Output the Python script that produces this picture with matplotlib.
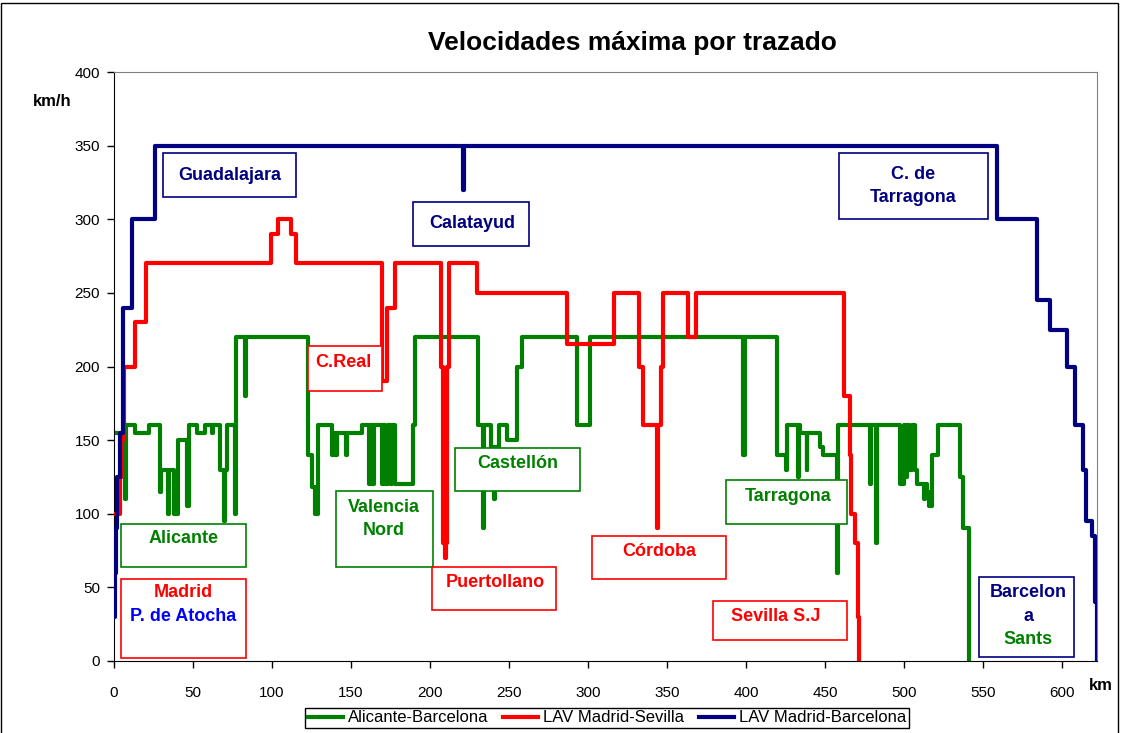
import matplotlib
matplotlib.use("Agg")
import matplotlib.pyplot as plt
from matplotlib.patches import Rectangle
from matplotlib.lines import Line2D

plt.rcParams['font.family'] = ['Liberation Sans', 'DejaVu Sans']

# Alicante-Barcelona (km, max speed) - step changes
green_km = [0, 6.8, 7.6, 13.3, 22.4, 28.8, 30, 34, 34.8, 38.2, 40.6, 46.2, 47.2,
            52.7, 57.6, 61.8, 62.6, 66.8, 69.6, 70.2, 71.3, 76.6, 77.2, 82.9, 83.6,
            123, 125.3, 127.5, 128.8, 137.8, 138.5, 140, 141, 146.5, 147.2, 156.8,
            161.5, 162.5, 163.5, 164.5, 169.4, 170.5, 171.5, 173.6, 175.5, 176, 178,
            189.4, 190.5, 230.6, 233.5, 234.2, 238.5, 240.5, 241.2, 243.3, 248.5,
            254.9, 258, 292.8, 301.3, 398.2, 399.2, 419.4, 425.5, 426, 433, 433.6,
            434.2, 438.2, 438.8, 446.8, 448.5, 457.2, 458.4, 478.3, 478.9, 482.4, 483,
            497.5, 499.8, 501, 502, 503, 505, 507, 508, 512.4, 513, 514.5, 516, 517.5,
            521.7, 535.4, 537.5, 540.7]
green_v = [155, 110, 160, 155, 160, 115, 130, 100, 130, 100, 150, 105, 160,
           155, 160, 155, 160, 130, 95, 130, 160, 100, 220, 180, 220,
           140, 118, 100, 160, 140, 155, 140, 155, 140, 155, 160,
           120, 160, 120, 160, 120, 160, 120, 160, 120, 160, 120,
           160, 220, 160, 90, 160, 145, 110, 145, 160, 150,
           200, 220, 160, 220, 140, 220, 140, 130, 160, 125, 160,
           155, 130, 155, 145, 140, 60, 160, 120, 160, 80, 160,
           120, 160, 125, 160, 130, 160, 130, 120, 110, 120, 115, 105, 140,
           160, 125, 90, 0]

# LAV Madrid-Sevilla
red_km = [1, 2.5, 3.5, 5, 6.3, 13, 20, 99.4, 103.6, 112, 115.2, 169.5, 172.6,
          177.8, 206.8, 208.2, 209.2, 209.8, 210.9, 212.2, 229.5, 286.5, 316.6,
          332, 335, 343.3, 344.3, 346, 347.2, 363.5, 368.4, 462, 465.8, 466.5,
          469, 471, 471.3]
red_v = [100, 100, 125, 150, 200, 230, 270, 290, 300, 290, 270, 190, 240,
         270, 200, 80, 70, 80, 200, 270, 250, 215, 250,
         200, 160, 90, 160, 200, 250, 220, 250, 180, 140, 100,
         80, 30, 0]

# LAV Madrid-Barcelona
blue_km = [0, 0.5, 1, 2, 4, 5.5, 11.5, 26, 221, 221.6, 559, 584, 592, 603,
           608, 613, 615, 619, 621, 622]
blue_v = [30, 60, 90, 125, 155, 240, 300, 350, 320, 350, 300, 245, 225, 200,
          160, 130, 95, 85, 40, 0]

GREEN = '#008000'
RED = '#ff0000'
NAVY = '#000080'

fig = plt.figure(figsize=(11.23, 7.33), dpi=100)
ax = fig.add_axes([114 / 1123, 1 - 661 / 733, (1097 - 114) / 1123, (661 - 72) / 733])

ax.step(green_km, green_v, where='post', color=GREEN, lw=3, zorder=2)
ax.step(red_km, red_v, where='post', color=RED, lw=3, zorder=3)
ax.step(blue_km, blue_v, where='post', color=NAVY, lw=3, zorder=4)

ax.set_xlim(0, 622)
ax.set_ylim(0, 400)
ax.set_xticks(range(0, 601, 50))
ax.set_yticks(range(0, 401, 50))
ax.tick_params(axis='both', direction='out', length=5, width=1, labelsize=11)
ax.tick_params(axis='x', pad=13)
ax.tick_params(axis='y', pad=5)
for s in ['top', 'right']:
    ax.spines[s].set_color('#808080')
for s in ['left', 'bottom']:
    ax.spines[s].set_color('black')

# station boxes: (km0, km1, v0, v1, edge colour)
boxes = [
    (30.8, 115, 315.1, 345, NAVY),
    (189, 262.7, 281.8, 312, NAVY),
    (458.9, 553, 300.2, 345, NAVY),
    (122.8, 169.6, 183.6, 213.9, RED),
    (4.2, 83.5, 63.8, 93, GREEN),
    (4.2, 83.5, 2.2, 55.7, RED),
    (140.5, 201.7, 63.8, 115.4, GREEN),
    (201.3, 279.7, 34.6, 64, RED),
    (215.8, 295.1, 115.4, 144.7, GREEN),
    (302.3, 387.3, 55.5, 85.1, RED),
    (387.3, 463.7, 93, 122.9, GREEN),
    (379.3, 463.7, 14.3, 41, RED),
    (547.5, 607.6, 2.9, 57.2, NAVY),
]
for x0, x1, y0, y1, c in boxes:
    ax.add_patch(Rectangle((x0, y0), x1 - x0, y1 - y0, facecolor='white',
                           edgecolor=c, lw=1.2, zorder=5, clip_on=False))

labels = [
    (73.4, 329.4, 'Guadalajara', NAVY),
    (226.6, 297, 'Calatayud', NAVY),
    (505.7, 330.7, 'C. de', NAVY),
    (505.7, 315, 'Tarragona', NAVY),
    (145, 203, 'C.Real', RED),
    (43.7, 82.9, 'Alicante', GREEN),
    (43.7, 46.2, 'Madrid', RED),
    (43.7, 29.9, 'P. de Atocha', '#0000ff'),
    (170.9, 104.1, 'Valencia', GREEN),
    (170.9, 88.3, 'Nord', GREEN),
    (241.1, 53.6, 'Puertollano', RED),
    (255.7, 134.4, 'Castellón', GREEN),
    (344.9, 74.7, 'Córdoba', RED),
    (426.6, 112, 'Tarragona', GREEN),
    (419, 29.9, 'Sevilla S.J', RED),
    (578.5, 46.2, 'Barcelon', NAVY),
    (578.5, 29.9, 'a', NAVY),
    (578.5, 14.9, 'Sants', GREEN),
]
for x, y, t, c in labels:
    ax.text(x, y, t, color=c, fontsize=13, fontweight='bold',
            ha='center', va='center', zorder=6)

fig.text(632 / 1123, 1 - 43 / 733, 'Velocidades máxima por trazado',
         fontsize=19, fontweight='bold', ha='center', va='center')
fig.text(52 / 1123, 1 - 101 / 733, 'km/h', fontsize=12, fontweight='bold',
         ha='center', va='center')
fig.text(1101 / 1123, 1 - 686 / 733, 'km', fontsize=12, fontweight='bold',
         ha='center', va='center')

handles = [Line2D([], [], color=GREEN, lw=3),
           Line2D([], [], color=RED, lw=3),
           Line2D([], [], color=NAVY, lw=3)]
leg = fig.legend(handles, ['Alicante-Barcelona', 'LAV Madrid-Sevilla',
                           'LAV Madrid-Barcelona'],
                 loc='upper center', bbox_to_anchor=(607 / 1123, 1 - 708 / 733),
                 ncol=3, fontsize=12, handlelength=2.1, handletextpad=0.3,
                 columnspacing=0.9, fancybox=False, edgecolor='black',
                 framealpha=1, borderpad=0.15, borderaxespad=0)
leg.get_frame().set_linewidth(1)

# outer chart frame
fig.patches.append(Rectangle((1 / 1123, -0.05), 1117 / 1123, 1.05 - 3 / 733,
                             transform=fig.transFigure, fill=False,
                             edgecolor='black', lw=1))

fig.savefig('out.png', dpi=100)
